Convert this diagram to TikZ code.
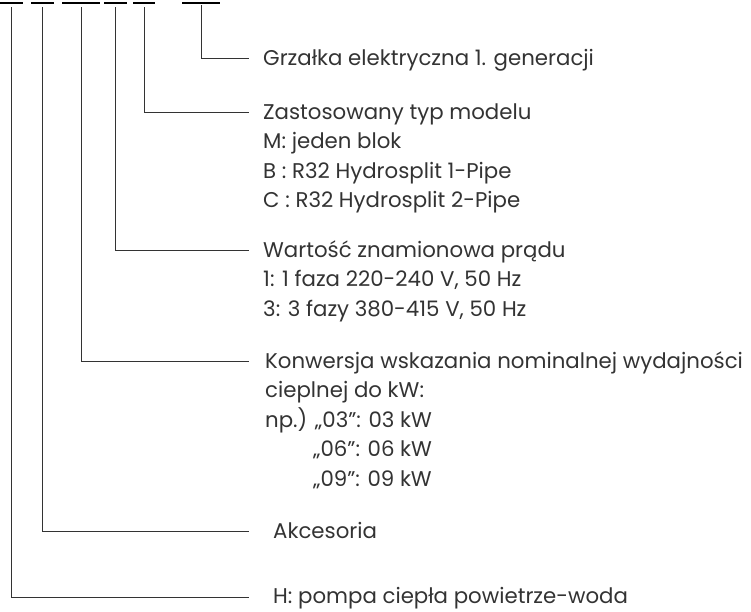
\documentclass[tikz,border=0pt]{standalone}
\usepackage{fontspec}
\setmainfont{Poppins}
\usetikzlibrary{positioning}
\definecolor{ink}{HTML}{333333}
\newcommand{\desctext}{\fontsize{21.3}{29.5}\selectfont}
\tikzset{
  codebar/.style={fill=black, draw=none, inner sep=0pt, minimum height=2.2pt},
  lead/.style={draw=ink, line width=0.8pt},
  desc/.style={anchor=north west, align=left, inner sep=0pt, text=ink, font=\desctext},
  descline/.style={desc, anchor=base west},
}

\begin{document}
\begin{tikzpicture}[x=1pt, y=-1pt]
  \useasboundingbox (0,0) rectangle (751,611);

  % code positions
  \node[codebar, minimum width=23pt] (b1) at (11.5,3) {};
  \node[codebar, minimum width=23pt] (b2) at (42.5,3) {};
  \node[codebar, minimum width=38pt] (b3) at (81,3) {};
  \node[codebar, minimum width=23pt] (b4) at (115.5,3) {};
  \node[codebar, minimum width=22pt] (b5) at (144,3) {};
  \node[codebar, minimum width=38pt] (b6) at (201,3) {};

  % line ends
  \coordinate (c1) at (249,597);
  \coordinate (c2) at (249,531);
  \coordinate (c3) at (249,361);
  \coordinate (c4) at (249,250);
  \coordinate (c5) at (249,112);
  \coordinate (c6) at (249,58);

  % texts (multi-line: top = first baseline - 20.65)
  \node[descline] (t6) at (263,65) {Grzałka elektryczna 1. generacji};
  \node[desc] (t5) at (263,98.35) {\strut Zastosowany typ modelu\\
    M: jeden blok\\
    B : R32 Hydrosplit 1-Pipe\\
    C : R32 Hydrosplit 2-Pipe};
  \node[desc] (t4) at (263,236.35) {\strut Wartość znamionowa prądu\\
    1: 1 faza 220-240 V, 50 Hz\\
    3: 3 fazy 380-415 V, 50 Hz};
  \node[desc] (t3) at (265,347.35) {\strut Konwersja wskazania nominalnej wydajności\\
    cieplnej do kW:\\
    np.) „03”: 03 kW\\
    \phantom{np.)~}„06”: 06 kW\\
    \phantom{np.)~}„09”: 09 kW};
  \node[descline] (t2) at (273,538) {Akcesoria};
  \node[descline] (t1) at (273,603.5) {H: pompa ciepła powietrze-woda};

  \draw[lead] ([yshift=-3pt]b1.south) |- (c1);
  \draw[lead] ([yshift=-3pt]b2.south) |- (c2);
  \draw[lead] ([yshift=-3pt]b3.south) |- (c3);
  \draw[lead] ([yshift=-3pt]b4.south) |- (c4);
  \draw[lead] ([yshift=-3pt]b5.south) |- (c5);
  \draw[lead] ([yshift=-1pt]b6.south) |- (c6);
\end{tikzpicture}
\end{document}
